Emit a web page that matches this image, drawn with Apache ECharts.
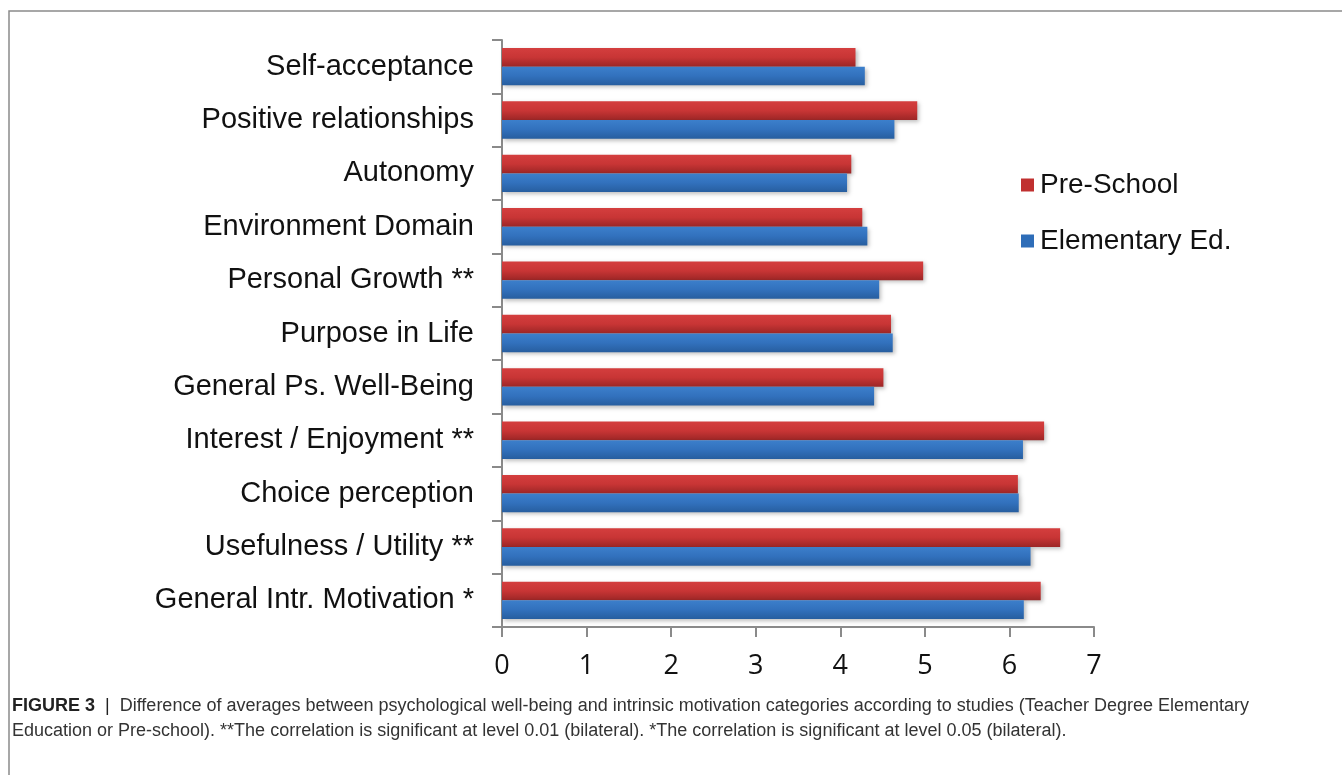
<!DOCTYPE html>
<html><head><meta charset="utf-8">
<script src="https://cdn.jsdelivr.net/npm/echarts@6/dist/echarts.min.js"></script>
<style>html,body{margin:0;padding:0;background:#fff}#c{width:1342px;height:775px}</style>
</head><body><div id="c"></div>
<script>
const categories = ["Self-acceptance","Positive relationships","Autonomy","Environment Domain","Personal Growth **","Purpose in Life","General Ps. Well-Being","Interest / Enjoyment **","Choice perception","Usefulness / Utility **","General Intr. Motivation *"];
const preSchool = [4.18,4.91,4.13,4.26,4.98,4.60,4.51,6.41,6.10,6.60,6.37];
const elementary = [4.29,4.64,4.08,4.32,4.46,4.62,4.40,6.16,6.11,6.25,6.17];
const xTicks = [0,1,2,3,4,5,6,7];
const captionBold = "FIGURE 3";
const captionLine1 = "Difference of averages between psychological well-being and intrinsic motivation categories according to studies (Teacher Degree Elementary";
const captionLine2 = "Education or Pre-school). **The correlation is significant at level 0.01 (bilateral). *The correlation is significant at level 0.05 (bilateral).";

const FONT = "Arial";
const chart = echarts.init(document.getElementById('c'), null, {renderer:'canvas'});
const redGrad = new echarts.graphic.LinearGradient(0,0,0,1,[{offset:0,color:'#d43e3e'},{offset:0.5,color:'#c83535'},{offset:1,color:'#9c2626'}]);
const blueGrad = new echarts.graphic.LinearGradient(0,0,0,1,[{offset:0,color:'#3c7fcb'},{offset:0.5,color:'#3271bd'},{offset:1,color:'#275e9f'}]);
chart.setOption({
  animation:false,
  backgroundColor:'#fff',
  grid:{left:502, right:248, top:40, bottom:148, containLabel:false},
  legend:{
    orient:'vertical', left:1016, top:166, itemGap:28, itemWidth:13, itemHeight:13,
    icon:'rect',
    textStyle:{fontFamily:FONT, fontSize:28, color:'#111', padding:[0,0,0,1]},
    data:[{name:'Pre-School', itemStyle:{color:'#c0302f'}},{name:'Elementary Ed.', itemStyle:{color:'#2e6db8'}}]
  },
  xAxis:{
    type:'value', min:0, max:7, interval:1,
    splitLine:{show:false},
    axisLine:{show:true, lineStyle:{color:'#8a8a8a', width:2}},
    axisTick:{show:true, length:10, lineStyle:{color:'#8a8a8a', width:2}},
    axisLabel:{fontFamily:'Open Sans', fontSize:27, color:'#111', margin:26,
      formatter:function(v){return xTicks.indexOf(v)>=0? String(v):'';}}
  },
  yAxis:{
    type:'category', inverse:true, data:categories,
    axisLine:{show:true, lineStyle:{color:'#8a8a8a', width:2}},
    axisTick:{show:true, length:10, lineStyle:{color:'#8a8a8a', width:2}},
    axisLabel:{fontFamily:FONT, fontSize:29, color:'#111', margin:28}
  },
  series:[
    {name:'Pre-School', type:'bar', data:preSchool, barGap:'0%', barCategoryGap:'30%',
      itemStyle:{color:redGrad, shadowColor:'rgba(0,0,0,0.25)', shadowBlur:4, shadowOffsetX:2, shadowOffsetY:2}},
    {name:'Elementary Ed.', type:'bar', data:elementary, barGap:'0%', barCategoryGap:'30%',
      itemStyle:{color:blueGrad, shadowColor:'rgba(0,0,0,0.25)', shadowBlur:4, shadowOffsetX:2, shadowOffsetY:2}}
  ],
  graphic:[
    {type:'polyline', shape:{points:[[9,775],[9,11],[1342,11]]}, style:{stroke:'#8a8a8a', lineWidth:1.5, fill:null}},
    {type:'text', left:12, top:697, style:{
      text:'{b|'+captionBold+'}{s|  |  }{n|'+captionLine1+'}\n{n|'+captionLine2+'}',
      rich:{
        b:{fontFamily:FONT, fontWeight:'bold', fontSize:18, fill:'#222', lineHeight:25},
        s:{fontFamily:FONT, fontSize:18, fill:'#222', lineHeight:25},
        n:{fontFamily:FONT, fontSize:18, fill:'#333', lineHeight:25}
      }
    }}
  ]
});
</script></body></html>
